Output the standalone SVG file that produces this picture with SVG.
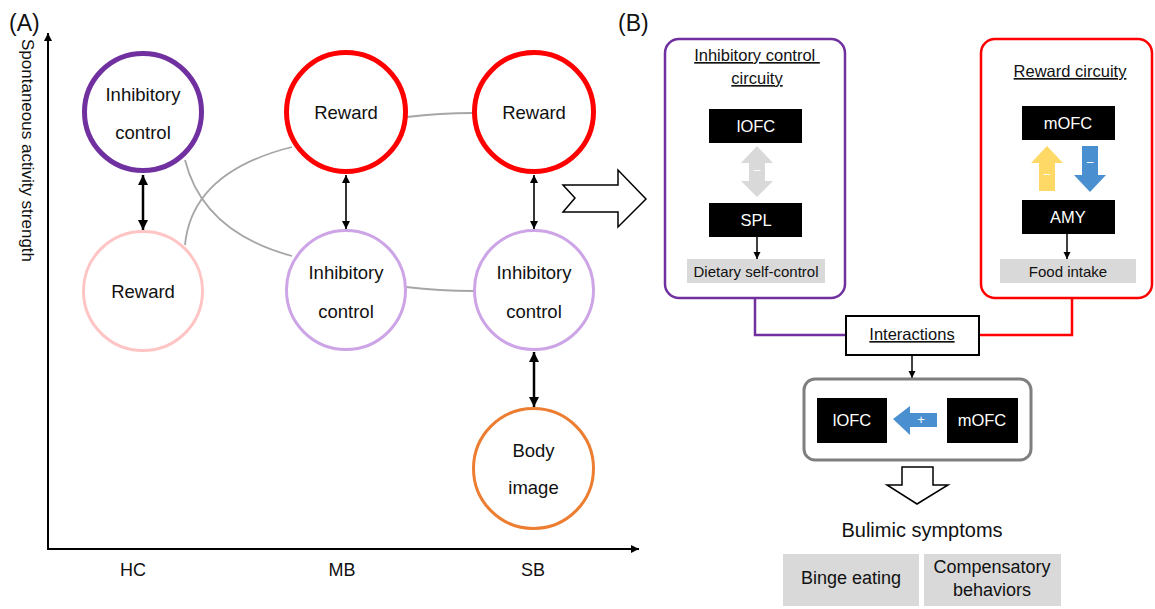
<svg xmlns="http://www.w3.org/2000/svg" width="1155" height="609" viewBox="0 0 1155 609">
<defs>
<marker id="ah" viewBox="0 0 10 10" refX="10" refY="5" markerWidth="4" markerHeight="4" orient="auto-start-reverse" markerUnits="strokeWidth"><path d="M0,0 L10,5 L0,10 z" fill="#000"/></marker>
<marker id="ah2" viewBox="0 0 10 10" refX="10" refY="5" markerWidth="5" markerHeight="5" orient="auto-start-reverse" markerUnits="strokeWidth"><path d="M0,0 L10,5 L0,10 z" fill="#000"/></marker>
</defs>
<style>
text{font-family:"Liberation Sans",Arial,sans-serif;fill:#111;}
.c{text-anchor:middle;}
.lbl{font-size:18.5px;}
.ax{font-size:18px;}
.blk{fill:#000;}
.wt{fill:#fff;font-size:16.5px;text-anchor:middle;}
.gbox{fill:#d9d9d9;}
.gl{fill:none;stroke:#a6a6a6;stroke-width:1.8;}
.arr{stroke:#000;fill:none;}
.ul{text-decoration:underline;}
</style>
<rect width="1155" height="609" fill="#fff"/>

<!-- Panel A -->
<text x="9" y="31" style="font-size:23px">(A)</text>
<text x="618" y="31" style="font-size:23px">(B)</text>
<g id="axes">
<line x1="48" y1="549" x2="48" y2="33" stroke="#000" stroke-width="2" marker-end="url(#ah)"/>
<line x1="47" y1="549" x2="639" y2="549" stroke="#000" stroke-width="2" marker-end="url(#ah)"/>
<text transform="translate(22,39) rotate(90)" style="font-size:17px">Spontaneous activity strength</text>
<text x="133" y="576" class="c ax">HC</text>
<text x="342" y="576" class="c ax">MB</text>
<text x="533" y="576" class="c ax">SB</text>
</g>

<!-- Panel B containers (drawn beneath the connectors) -->
<g id="inhib-circuit">
<rect x="665" y="39" width="180" height="259" rx="14" fill="#fff" stroke="#7030a0" stroke-width="2.5"/>
<text x="757" y="61" class="c ul" style="font-size:16.5px" xml:space="preserve">Inhibitory control </text>
<text x="757" y="84" class="c ul" style="font-size:16.5px">circuity</text>
</g>
<g id="reward-circuit">
<rect x="981" y="39" width="171" height="259" rx="14" fill="#fff" stroke="#ff0000" stroke-width="2.5"/>
<text x="1070" y="77" class="c ul" style="font-size:16.5px">Reward circuity</text>
</g>

<g id="connectors">
<path class="gl" d="M185,160 Q203,232 292,256"/>
<path class="gl" d="M185,245 Q192,172 292,147"/>
<path class="gl" d="M407,117 Q440,113 473,113"/>
<path class="gl" d="M406,287 Q440,291 474,291"/>
<line class="arr" x1="143" y1="175" x2="143" y2="230" stroke-width="2.5" marker-start="url(#ah)" marker-end="url(#ah)"/>
<line class="arr" x1="346" y1="175" x2="346" y2="229" stroke-width="1.6" marker-start="url(#ah2)" marker-end="url(#ah2)"/>
<line class="arr" x1="534" y1="175" x2="534" y2="229" stroke-width="1.6" marker-start="url(#ah2)" marker-end="url(#ah2)"/>
<line class="arr" x1="534" y1="352" x2="534" y2="407" stroke-width="2.5" marker-start="url(#ah)" marker-end="url(#ah)"/>
<path d="M755,298 V335 H846" fill="none" stroke="#7030a0" stroke-width="2.5"/>
<path d="M1072,298 V335 H979" fill="none" stroke="#ff0000" stroke-width="2.5"/>
<line class="arr" x1="757" y1="237" x2="757" y2="259" stroke-width="1.5" marker-end="url(#ah2)"/>
<line class="arr" x1="1067" y1="234" x2="1067" y2="259" stroke-width="1.5" marker-end="url(#ah2)"/>
<line class="arr" x1="912" y1="355" x2="912" y2="378" stroke-width="1.5" marker-end="url(#ah2)"/>
</g>

<g id="hc-inhib">
<circle cx="143" cy="112" r="58.5" fill="#fff" stroke="#7030a0" stroke-width="5"/>
<text x="143" y="101" class="c lbl">Inhibitory</text>
<text x="143" y="139" class="c lbl">control</text>
</g>
<g id="hc-reward">
<circle cx="143" cy="291" r="59.5" fill="none" stroke="#ffc5c5" stroke-width="3"/>
<text x="143" y="298" class="c lbl">Reward</text>
</g>
<g id="mb-reward">
<circle cx="346" cy="112" r="59.5" fill="#fff" stroke="#ff0000" stroke-width="5"/>
<text x="346" y="119" class="c lbl">Reward</text>
</g>
<g id="sb-reward">
<circle cx="534" cy="112" r="59.5" fill="#fff" stroke="#ff0000" stroke-width="5"/>
<text x="534" y="119" class="c lbl">Reward</text>
</g>
<g id="mb-inhib">
<circle cx="346" cy="290" r="59.5" fill="#fff" stroke="#cda4e6" stroke-width="3"/>
<text x="346" y="279" class="c lbl">Inhibitory</text>
<text x="346" y="318" class="c lbl">control</text>
</g>
<g id="sb-inhib">
<circle cx="534" cy="290" r="59.5" fill="#fff" stroke="#cda4e6" stroke-width="3"/>
<text x="534" y="279" class="c lbl">Inhibitory</text>
<text x="534" y="318" class="c lbl">control</text>
</g>
<g id="sb-body">
<circle cx="533.5" cy="468.5" r="60" fill="#fff" stroke="#ed7d31" stroke-width="3"/>
<text x="533.5" y="457" class="c lbl">Body</text>
<text x="533.5" y="494" class="c lbl">image</text>
</g>

<g id="big-arrow">
<polygon points="563,185 618,185 618,170 646,199 618,227 618,212 563,212 575,198" fill="#fff" stroke="#000" stroke-width="1.5"/>
</g>

<!-- Panel B nodes -->
<g id="l-ofc-1">
<rect x="709" y="109" width="93" height="34" class="blk"/>
<text x="756" y="132" class="wt">lOFC</text>
</g>
<g id="ic-arrow">
<polygon points="757,146 773,163 765,163 765,181 773,181 757,197 741,181 749,181 749,163 741,163" fill="#d9d9d9"/>
<text x="757" y="174" class="c" style="fill:#fff;font-size:12px">–</text>
</g>
<g id="spl">
<rect x="709" y="203" width="93" height="34" class="blk"/>
<text x="756" y="226" class="wt">SPL</text>
</g>
<g id="dietary">
<rect x="687" y="259" width="138" height="24" class="gbox"/>
<text x="756" y="277" class="c" style="font-size:15px">Dietary self-control</text>
</g>
<g id="m-ofc-1">
<rect x="1022" y="106" width="93" height="34" class="blk"/>
<text x="1068" y="129" class="wt">mOFC</text>
</g>
<g id="rc-arrows">
<polygon points="1047,146 1063,163 1055,163 1055,191 1039,191 1039,163 1031,163" fill="#ffd966"/>
<text x="1047" y="178" class="c" style="fill:#fff;font-size:12px">–</text>
<polygon points="1082,146 1098,146 1098,175 1106,175 1090,192 1074,175 1082,175" fill="#4a8fd0"/>
<text x="1090" y="166" class="c" style="fill:#fff;font-size:12px">–</text>
</g>
<g id="amy">
<rect x="1022" y="200" width="93" height="34" class="blk"/>
<text x="1068" y="223" class="wt">AMY</text>
</g>
<g id="food">
<rect x="1000" y="259" width="136" height="24" class="gbox"/>
<text x="1068" y="277" class="c" style="font-size:15px">Food intake</text>
</g>

<g id="interactions">
<rect x="846" y="316" width="133" height="39" fill="#fff" stroke="#000" stroke-width="2"/>
<text x="912" y="340" class="c ul" style="font-size:16.5px">Interactions</text>
</g>
<g id="interaction-box">
<rect x="804" y="379" width="227" height="81" rx="11" fill="#fff" stroke="#7f7f7f" stroke-width="3"/>
</g>
<g id="l-ofc-2">
<rect x="817" y="398" width="70" height="45" class="blk"/>
<text x="852" y="426" class="wt">lOFC</text>
</g>
<g id="m-ofc-2">
<rect x="947" y="398" width="71" height="45" class="blk"/>
<text x="982" y="426" class="wt">mOFC</text>
</g>
<g id="plus-arrow">
<polygon points="893,419 910,406 910,413 937,413 937,427 910,427 910,435" fill="#4a8fd0"/>
<text x="921" y="424" class="c" style="fill:#fff;font-size:13px">+</text>
</g>
<g id="down-arrow">
<polygon points="902,467 933,467 933,485 948,485 917,504 887,485 902,485" fill="#fff" stroke="#000" stroke-width="1.5"/>
</g>
<g id="bulimic">
<text x="922" y="537" class="c" style="font-size:20px">Bulimic symptoms</text>
</g>
<g id="binge">
<rect x="783" y="554" width="136" height="52" class="gbox"/>
<text x="851" y="584" class="c" style="font-size:18px">Binge eating</text>
</g>
<g id="comp">
<rect x="924" y="554" width="137" height="52" class="gbox"/>
<text x="992" y="573" class="c" style="font-size:18px">Compensatory</text>
<text x="992" y="596" class="c" style="font-size:18px">behaviors</text>
</g>
</svg>
